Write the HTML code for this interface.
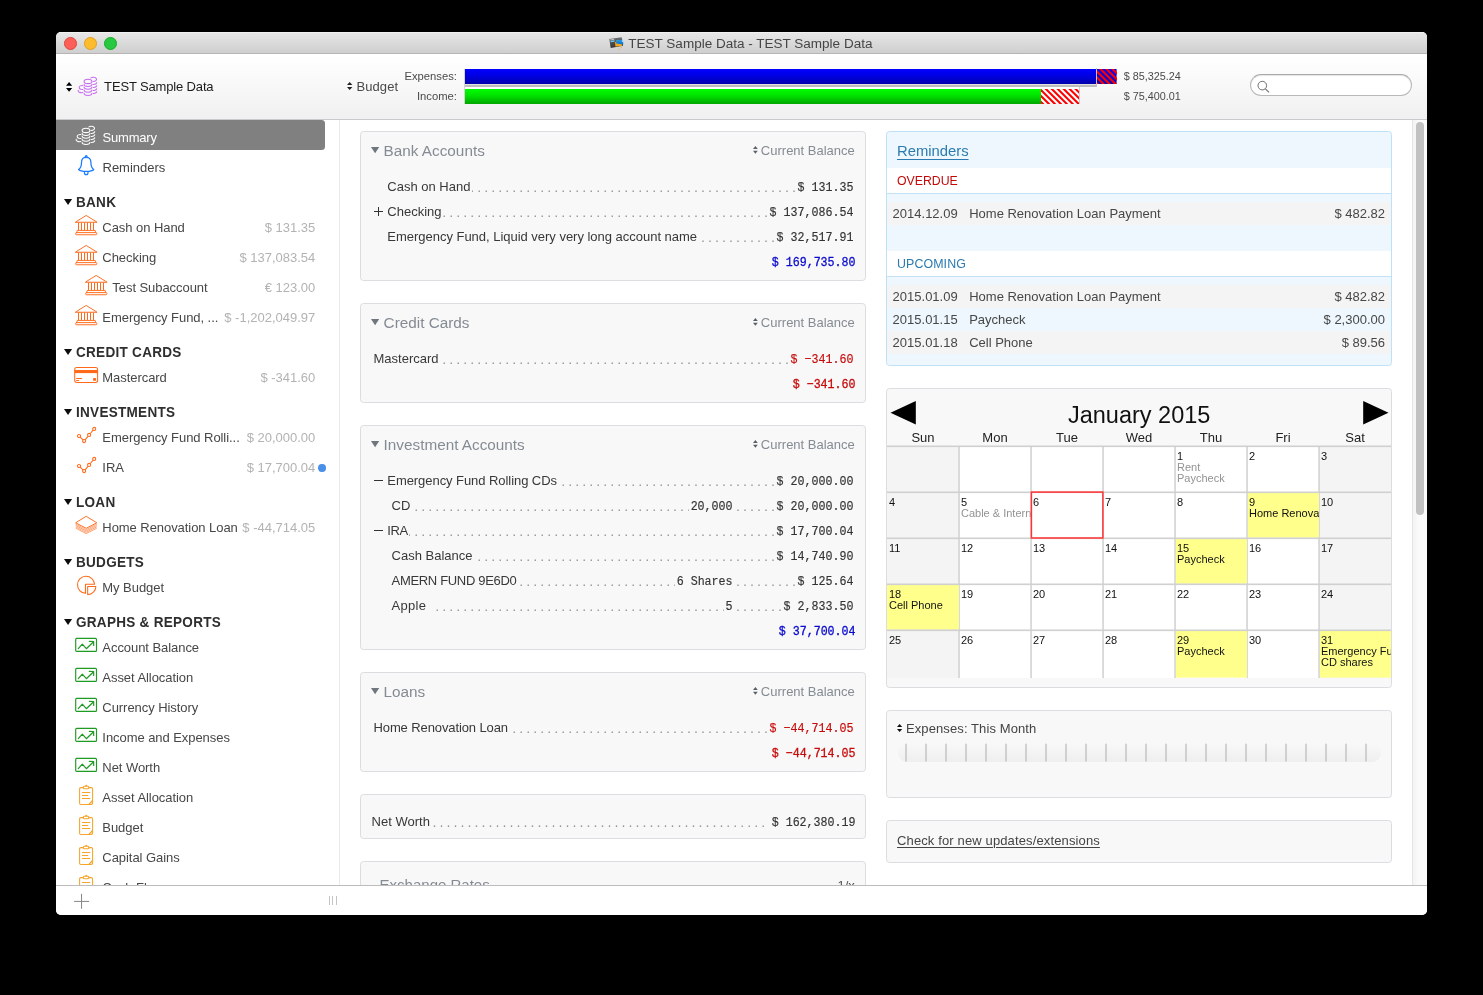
<!DOCTYPE html>
<html><head><meta charset="utf-8"><title>TEST Sample Data</title>
<style>
html,body{margin:0;padding:0;}
body{width:1483px;height:995px;background:#000;overflow:hidden;position:relative;font-family:"Liberation Sans",sans-serif;}
#win{position:absolute;left:56px;top:32px;width:1371px;height:883px;border-radius:5px 5px 5px 5px;overflow:hidden;background:#fff;}
#abs{position:absolute;left:-56px;top:-32px;width:1483px;height:995px;will-change:transform;}
#abs div,#abs svg{position:absolute;white-space:nowrap;}
#abs svg{overflow:visible;}
.m{font-family:"Liberation Mono",monospace;}
</style></head><body>
<div id="win"><div id="abs">
<div style="left:56px;top:32px;width:1371px;height:21px;background:linear-gradient(#e7e7e7,#e2e2e2 25%,#d8d8d8 60%,#cfcfcf);border-bottom:1px solid #b5b5b5;"></div>
<div style="left:56px;top:32px;width:1371px;height:1px;background:#f1f1f1;"></div>
<div style="left:63.85px;top:36.85px;width:10.7px;height:10.7px;border-radius:50%;background:#fc5f57;border:0.5px solid #e0443e;"></div>
<div style="left:83.85px;top:36.85px;width:10.7px;height:10.7px;border-radius:50%;background:#fdbc2e;border:0.5px solid #dea123;"></div>
<div style="left:103.85px;top:36.85px;width:10.7px;height:10.7px;border-radius:50%;background:#28c840;border:0.5px solid #1aab29;"></div>
<div style="top:32.51px;font-size:13.53px;line-height:22px;color:#454545;left:628.30px;">TEST Sample Data - TEST Sample Data</div>
<svg style="left:609px;top:37px;" width="16" height="14" viewBox="0 0 16 14"><defs><linearGradient id="wg" x1="0" y1="0" x2="0" y2="1"><stop offset="0" stop-color="#707070"/><stop offset="1" stop-color="#333"/></linearGradient><linearGradient id="wb" x1="0" y1="0" x2="0" y2="1"><stop offset="0" stop-color="#2a9bea"/><stop offset="1" stop-color="#0a6fc4"/></linearGradient></defs><path d="M0.3 2.0 L12.7 0.2 L14.1 8.7 L1.7 10.9 Z" fill="url(#wg)"/><path d="M1.3 2.6 L5.2 2.1 L5.3 2.8 L1.4 3.3 Z" fill="#d4d9dc"/><path d="M1.5 3.7 L5.5 3.2 L5.7 4.8 L1.7 5.3 Z" fill="#6cc4ee"/><path d="M6.0 5.0 L12.6 5.2 L12.9 9.0 L6.4 9.6 Z" fill="#f3a81e"/><path d="M7.1 2.9 L14.0 2.7 L14.3 7.6 Q10.3 7.2 7.3 6.5 Z" fill="url(#wb)"/><rect x="12.9" y="3.1" width="1.1" height="1.9" fill="#a8d4f4"/><circle cx="7.7" cy="3.7" r="0.45" fill="#7ac043"/><circle cx="12.5" cy="10.6" r="0.55" fill="#efa030" opacity="0.85"/><circle cx="10.1" cy="12.4" r="0.6" fill="#efa030" opacity="0.75"/></svg>
<div style="left:56px;top:54px;width:1371px;height:65px;background:linear-gradient(#ffffff,#fbfbfb 30%,#f0f0f0);border-bottom:1px solid #c9c9cd;"></div>
<svg style="left:66px;top:81.5px;" width="6.2" height="9.8" viewBox="0 0 6.2 9.8"><path d="M0 3.72 L3.1 0 L6.2 3.72 Z M0 6.08 L3.1 9.8 L6.2 6.08 Z" fill="#000"/></svg>
<svg style="left:76px;top:76px;" width="24" height="22" viewBox="0 0 24 22"><g fill="none" stroke="#c66cf0" stroke-width="1.05" stroke-linecap="round"><ellipse cx="12" cy="5.4" rx="3.9" ry="2.2"/><path d="M8.1 8.2 A3.9 2.25 0 0 0 15.9 8.2"/><path d="M8.1 11.1 A3.9 2.25 0 0 0 15.9 11.1"/><path d="M8.1 14.1 A3.9 2.25 0 0 0 15.9 14.1"/><path d="M8.1 17.3 A3.9 2.25 0 0 0 15.9 17.3"/><path d="M14.9 1.9 A3.3 2.1 0 1 1 17.1 5.5"/><path d="M17.2 8.45 A3.3 2.1 0 0 0 20.75 6.75"/><path d="M17.2 11.45 A3.3 2.1 0 0 0 20.75 9.75"/><path d="M17.2 14.45 A3.3 2.1 0 0 0 20.75 12.75"/><path d="M17.2 17.45 A3.3 2.1 0 0 0 20.75 15.75"/><path d="M6.8 9.5 A3.6 2.0 0 0 0 6.8 13.5"/><path d="M2.2 14.3 A3.6 2.0 0 0 0 6.8 16.6"/></g></svg>
<div style="top:75.60px;font-size:13px;line-height:21px;color:#1c1c1c;left:104.10px;letter-spacing:-0.15px;">TEST Sample Data</div>
<svg style="left:346.8px;top:82.3px;" width="5.4" height="8" viewBox="0 0 5.4 8"><path d="M0 3.04 L2.7 0 L5.4 3.04 Z M0 4.96 L2.7 8 L5.4 4.96 Z" fill="#222"/></svg>
<div style="top:76.30px;font-size:13px;line-height:21px;color:#4a4a4a;left:356.50px;letter-spacing:0.08px;">Budget</div>
<div style="top:67.00px;font-size:11.25px;line-height:18px;color:#4a4a4a;right:1026.00px;">Expenses:</div>
<div style="top:87.20px;font-size:11.25px;line-height:18px;color:#4a4a4a;right:1026.00px;">Income:</div>
<div style="left:463.6px;top:68.6px;width:1.4px;height:35.6px;background:#d3d3d3;"></div>
<div style="left:465px;top:84px;width:632.3px;height:1.4px;background:#e1e1de;"></div>
<div style="left:465px;top:85.4px;width:632.3px;height:1.3px;background:#bdbdbd;"></div>
<div style="left:1096.2px;top:67.6px;width:1.2px;height:19.1px;background:#c3c3c3;"></div>
<div style="left:465px;top:86.7px;width:614px;height:2.3px;background:#fff;"></div>
<div style="left:1078.7px;top:86.5px;width:1px;height:17.6px;background:#cdcdcd;"></div>
<div style="left:465px;top:69px;width:631.2px;height:15px;background:linear-gradient(#0000ff,#0000e2 45%,#0000ac);"></div>
<svg style="left:1097.4px;top:69px;overflow:hidden;" width="19.6" height="15" viewBox="0 0 19.6 15"><defs><linearGradient id="bg1" x1="0" y1="0" x2="0" y2="1"><stop offset="0" stop-color="#0c00f6"/><stop offset="0.45" stop-color="#0c00dc"/><stop offset="1" stop-color="#0c00b4"/></linearGradient></defs><rect width="19.6" height="15" fill="url(#bg1)"/><g stroke="#ff0000" stroke-width="2.1"><path d="M-23.50 -3 L-2.50 18"/><path d="M-17.50 -3 L3.50 18"/><path d="M-11.50 -3 L9.50 18"/><path d="M-5.50 -3 L15.50 18"/><path d="M0.50 -3 L21.50 18"/><path d="M6.50 -3 L27.50 18"/><path d="M12.50 -3 L33.50 18"/><path d="M18.50 -3 L39.50 18"/></g></svg>
<div style="left:465px;top:89px;width:576px;height:15px;background:linear-gradient(#00ff00,#00e200 45%,#00a600);"></div>
<svg style="left:1041px;top:89px;overflow:hidden;" width="37.7" height="15" viewBox="0 0 37.7 15"><rect width="37.7" height="15" fill="#ffffff"/><g stroke="#ff0000" stroke-width="2.1"><path d="M-21.90 -3 L-0.90 18"/><path d="M-15.95 -3 L5.05 18"/><path d="M-10.00 -3 L11.00 18"/><path d="M-4.05 -3 L16.95 18"/><path d="M1.90 -3 L22.90 18"/><path d="M7.85 -3 L28.85 18"/><path d="M13.80 -3 L34.80 18"/><path d="M19.75 -3 L40.75 18"/><path d="M25.70 -3 L46.70 18"/><path d="M31.65 -3 L52.65 18"/><path d="M37.60 -3 L58.60 18"/></g></svg>
<div style="top:67.56px;font-size:10.8px;line-height:17px;color:#4a4a4a;left:1123.80px;">$ 85,325.24</div>
<div style="top:88.16px;font-size:10.8px;line-height:17px;color:#4a4a4a;left:1123.80px;">$ 75,400.01</div>
<div style="left:1250px;top:74px;width:160px;height:20px;border:1px solid #b9b9b9;border-top-color:#a9a9a9;border-radius:11px;background:#fff;box-shadow:inset 0 1px 1px rgba(0,0,0,0.10);"></div>
<svg style="left:1256px;top:79px;" width="15" height="15" viewBox="0 0 15 15"><circle cx="6.3" cy="6.6" r="4.3" fill="none" stroke="#6e6e6e" stroke-width="1"/><path d="M9.4 9.8 L13 13.4" stroke="#6e6e6e" stroke-width="1.1"/></svg>
<div style="left:339px;top:120px;width:1px;height:765px;background:#e9e9ed;"></div>
<div style="left:56px;top:120px;width:269px;height:30px;background:#808080;border-radius:0 3.5px 3.5px 0;"></div>
<svg style="left:74px;top:125px;" width="24" height="22" viewBox="0 0 24 22"><g fill="none" stroke="#ffffff" stroke-width="1.05" stroke-linecap="round"><ellipse cx="12" cy="5.4" rx="3.9" ry="2.2"/><path d="M8.1 8.2 A3.9 2.25 0 0 0 15.9 8.2"/><path d="M8.1 11.1 A3.9 2.25 0 0 0 15.9 11.1"/><path d="M8.1 14.1 A3.9 2.25 0 0 0 15.9 14.1"/><path d="M8.1 17.3 A3.9 2.25 0 0 0 15.9 17.3"/><path d="M14.9 1.9 A3.3 2.1 0 1 1 17.1 5.5"/><path d="M17.2 8.45 A3.3 2.1 0 0 0 20.75 6.75"/><path d="M17.2 11.45 A3.3 2.1 0 0 0 20.75 9.75"/><path d="M17.2 14.45 A3.3 2.1 0 0 0 20.75 12.75"/><path d="M17.2 17.45 A3.3 2.1 0 0 0 20.75 15.75"/><path d="M6.8 9.5 A3.6 2.0 0 0 0 6.8 13.5"/><path d="M2.2 14.3 A3.6 2.0 0 0 0 6.8 16.6"/></g></svg>
<div style="top:127.00px;font-size:13px;line-height:21px;color:#ffffff;left:102.50px;letter-spacing:-0.2px;">Summary</div>
<svg style="left:78px;top:155px;" width="17" height="21" viewBox="0 0 17 21"><g fill="none" stroke="#1a7cff" stroke-width="1.25" stroke-linejoin="round" stroke-linecap="round"><circle cx="8.2" cy="1.6" r="0.9"/><path d="M0.6 14.5 C2.9 13 3.5 10.5 3.5 7.5 C3.5 4.2 5.6 2.4 8.2 2.4 C10.8 2.4 12.9 4.2 12.9 7.5 C12.9 10.5 13.5 13 15.8 14.5 C13.4 17.1 3 17.1 0.6 14.5 Z"/><path d="M6.4 17.4 C6.4 20.4 10 20.4 10 17.4"/></g></svg>
<div style="top:157.00px;font-size:13px;line-height:21px;color:#444;left:102.50px;">Reminders</div>
<svg style="left:64.1px;top:199.0px;" width="9" height="6.6" viewBox="0 0 9 6.6"><path d="M0 0 H8.1 L4.05 6.1 Z" fill="#0c0c0c"/></svg>
<div style="top:191.41px;font-size:14.4px;line-height:23px;color:#2e2e2e;font-weight:bold;left:76.00px;letter-spacing:0.3px;transform:scaleX(0.94);transform-origin:0 0;">BANK</div>
<svg style="left:75px;top:215px;" width="22.5" height="20.5" viewBox="0 0 22.5 20.5"><g fill="none" stroke="#ff6a1a" stroke-width="1" stroke-linejoin="round" stroke-linecap="round"><path d="M0.8 6.9 L11.2 0.45 L21.6 6.9" stroke-width="0.95"/><path d="M0.6 7.25 H21.8" stroke-width="1.05"/><path d="M3.5 7.6 V15.2" stroke-linecap="butt"/><path d="M6.5 7.6 V15.2" stroke-linecap="butt"/><path d="M9.5 7.6 V15.2" stroke-linecap="butt"/><path d="M12.5 7.6 V15.2" stroke-linecap="butt"/><path d="M15.5 7.6 V15.2" stroke-linecap="butt"/><path d="M18.5 7.6 V15.2" stroke-linecap="butt"/><path d="M1.7 17.55 L2.3 15.45 H20.1 L20.7 17.55" stroke-width="0.95"/><rect x="0.55" y="17.6" width="21.3" height="2.15" rx="1" stroke-width="0.95"/></g></svg>
<div style="top:217.00px;font-size:13px;line-height:21px;color:#474747;left:102.35px;letter-spacing:-0.06px;">Cash on Hand</div>
<div style="top:217.00px;font-size:13px;line-height:21px;color:#b3b3b3;right:1167.70px;">$ 131.35</div>
<svg style="left:75px;top:245px;" width="22.5" height="20.5" viewBox="0 0 22.5 20.5"><g fill="none" stroke="#ff6a1a" stroke-width="1" stroke-linejoin="round" stroke-linecap="round"><path d="M0.8 6.9 L11.2 0.45 L21.6 6.9" stroke-width="0.95"/><path d="M0.6 7.25 H21.8" stroke-width="1.05"/><path d="M3.5 7.6 V15.2" stroke-linecap="butt"/><path d="M6.5 7.6 V15.2" stroke-linecap="butt"/><path d="M9.5 7.6 V15.2" stroke-linecap="butt"/><path d="M12.5 7.6 V15.2" stroke-linecap="butt"/><path d="M15.5 7.6 V15.2" stroke-linecap="butt"/><path d="M18.5 7.6 V15.2" stroke-linecap="butt"/><path d="M1.7 17.55 L2.3 15.45 H20.1 L20.7 17.55" stroke-width="0.95"/><rect x="0.55" y="17.6" width="21.3" height="2.15" rx="1" stroke-width="0.95"/></g></svg>
<div style="top:247.00px;font-size:13px;line-height:21px;color:#474747;left:102.35px;letter-spacing:-0.06px;">Checking</div>
<div style="top:247.00px;font-size:13px;line-height:21px;color:#b3b3b3;right:1167.70px;">$ 137,083.54</div>
<svg style="left:85px;top:275px;" width="22.5" height="20.5" viewBox="0 0 22.5 20.5"><g fill="none" stroke="#ff6a1a" stroke-width="1" stroke-linejoin="round" stroke-linecap="round"><path d="M0.8 6.9 L11.2 0.45 L21.6 6.9" stroke-width="0.95"/><path d="M0.6 7.25 H21.8" stroke-width="1.05"/><path d="M3.5 7.6 V15.2" stroke-linecap="butt"/><path d="M6.5 7.6 V15.2" stroke-linecap="butt"/><path d="M9.5 7.6 V15.2" stroke-linecap="butt"/><path d="M12.5 7.6 V15.2" stroke-linecap="butt"/><path d="M15.5 7.6 V15.2" stroke-linecap="butt"/><path d="M18.5 7.6 V15.2" stroke-linecap="butt"/><path d="M1.7 17.55 L2.3 15.45 H20.1 L20.7 17.55" stroke-width="0.95"/><rect x="0.55" y="17.6" width="21.3" height="2.15" rx="1" stroke-width="0.95"/></g></svg>
<div style="top:277.00px;font-size:13px;line-height:21px;color:#474747;left:112.35px;letter-spacing:-0.06px;">Test Subaccount</div>
<div style="top:277.00px;font-size:13px;line-height:21px;color:#b3b3b3;right:1167.70px;">&euro; 123.00</div>
<svg style="left:75px;top:305px;" width="22.5" height="20.5" viewBox="0 0 22.5 20.5"><g fill="none" stroke="#ff6a1a" stroke-width="1" stroke-linejoin="round" stroke-linecap="round"><path d="M0.8 6.9 L11.2 0.45 L21.6 6.9" stroke-width="0.95"/><path d="M0.6 7.25 H21.8" stroke-width="1.05"/><path d="M3.5 7.6 V15.2" stroke-linecap="butt"/><path d="M6.5 7.6 V15.2" stroke-linecap="butt"/><path d="M9.5 7.6 V15.2" stroke-linecap="butt"/><path d="M12.5 7.6 V15.2" stroke-linecap="butt"/><path d="M15.5 7.6 V15.2" stroke-linecap="butt"/><path d="M18.5 7.6 V15.2" stroke-linecap="butt"/><path d="M1.7 17.55 L2.3 15.45 H20.1 L20.7 17.55" stroke-width="0.95"/><rect x="0.55" y="17.6" width="21.3" height="2.15" rx="1" stroke-width="0.95"/></g></svg>
<div style="top:307.00px;font-size:13px;line-height:21px;color:#474747;left:102.35px;letter-spacing:-0.06px;">Emergency Fund, ...</div>
<div style="top:307.00px;font-size:13px;line-height:21px;color:#b3b3b3;right:1167.70px;">$ -1,202,049.97</div>
<svg style="left:64.1px;top:349.0px;" width="9" height="6.6" viewBox="0 0 9 6.6"><path d="M0 0 H8.1 L4.05 6.1 Z" fill="#0c0c0c"/></svg>
<div style="top:341.41px;font-size:14.4px;line-height:23px;color:#2e2e2e;font-weight:bold;left:76.00px;letter-spacing:0.3px;transform:scaleX(0.94);transform-origin:0 0;">CREDIT CARDS</div>
<svg style="left:74px;top:367px;" width="25" height="17" viewBox="0 0 25 17"><rect x="0.7" y="0.5" width="22.9" height="14.9" rx="2" fill="none" stroke="#ff6a1a" stroke-width="1.05"/><rect x="0.7" y="3" width="22.9" height="3.1" fill="#ff6a1a"/><rect x="2" y="10.9" width="6.2" height="1.15" rx="0.55" fill="#ff6a1a"/><rect x="2" y="13" width="3.2" height="1.05" rx="0.5" fill="#ff6a1a"/><rect x="19.1" y="11.1" width="2.9" height="2.7" rx="0.3" fill="#ff6a1a"/></svg>
<div style="top:367.00px;font-size:13px;line-height:21px;color:#474747;left:102.35px;letter-spacing:-0.06px;">Mastercard</div>
<div style="top:367.00px;font-size:13px;line-height:21px;color:#b3b3b3;right:1167.70px;">$ -341.60</div>
<svg style="left:64.1px;top:409.0px;" width="9" height="6.6" viewBox="0 0 9 6.6"><path d="M0 0 H8.1 L4.05 6.1 Z" fill="#0c0c0c"/></svg>
<div style="top:401.41px;font-size:14.4px;line-height:23px;color:#2e2e2e;font-weight:bold;left:76.00px;letter-spacing:0.3px;transform:scaleX(0.94);transform-origin:0 0;">INVESTMENTS</div>
<svg style="left:75px;top:420px;" width="24" height="26" viewBox="0 0 24 26"><g fill="none" stroke="#ff6a1a" stroke-width="1.05"><path d="M5.15 17.07 L8.04 19.96"/><path d="M10.11 19.85 L13.13 16.11"/><path d="M15.10 13.72 L18.20 10.08"/><circle cx="4.05" cy="15.97" r="1.55"/><circle cx="9.14" cy="21.06" r="1.55"/><circle cx="14.1" cy="14.9" r="1.55"/><circle cx="19.2" cy="8.9" r="1.55"/></g></svg>
<div style="top:427.00px;font-size:13px;line-height:21px;color:#474747;left:102.35px;letter-spacing:-0.06px;">Emergency Fund Rolli...</div>
<div style="top:427.00px;font-size:13px;line-height:21px;color:#b3b3b3;right:1167.70px;">$ 20,000.00</div>
<svg style="left:75px;top:450px;" width="24" height="26" viewBox="0 0 24 26"><g fill="none" stroke="#ff6a1a" stroke-width="1.05"><path d="M5.15 17.07 L8.04 19.96"/><path d="M10.11 19.85 L13.13 16.11"/><path d="M15.10 13.72 L18.20 10.08"/><circle cx="4.05" cy="15.97" r="1.55"/><circle cx="9.14" cy="21.06" r="1.55"/><circle cx="14.1" cy="14.9" r="1.55"/><circle cx="19.2" cy="8.9" r="1.55"/></g></svg>
<div style="top:457.00px;font-size:13px;line-height:21px;color:#474747;left:102.35px;letter-spacing:-0.06px;">IRA</div>
<div style="top:457.00px;font-size:13px;line-height:21px;color:#b3b3b3;right:1167.70px;">$ 17,700.04</div>
<div style="left:318.2px;top:464.2px;width:7.4px;height:7.4px;border-radius:50%;background:#4a90e8;"></div>
<svg style="left:64.1px;top:499.0px;" width="9" height="6.6" viewBox="0 0 9 6.6"><path d="M0 0 H8.1 L4.05 6.1 Z" fill="#0c0c0c"/></svg>
<div style="top:491.41px;font-size:14.4px;line-height:23px;color:#2e2e2e;font-weight:bold;left:76.00px;letter-spacing:0.3px;transform:scaleX(0.94);transform-origin:0 0;">LOAN</div>
<svg style="left:75px;top:510px;" width="23" height="26" viewBox="0 0 23 26"><g fill="none" stroke="#ff6a1a" stroke-width="0.62" stroke-linejoin="round"><path d="M11.23 6.3 L0.66 12.8 L11.23 18.3 L21.8 12.8 Z" stroke-width="0.95"/><path d="M0.66 14.14 L11.23 19.64 L21.8 14.14"/><path d="M0.66 15.48 L11.23 20.98 L21.8 15.48"/><path d="M0.66 16.82 L11.23 22.32 L21.8 16.82"/><path d="M0.66 18.16 L11.23 23.66 L21.8 18.16"/></g></svg>
<div style="top:517.00px;font-size:13px;line-height:21px;color:#474747;left:102.35px;letter-spacing:-0.06px;">Home Renovation Loan</div>
<div style="top:517.00px;font-size:13px;line-height:21px;color:#b3b3b3;right:1167.70px;">$ -44,714.05</div>
<svg style="left:64.1px;top:559.0px;" width="9" height="6.6" viewBox="0 0 9 6.6"><path d="M0 0 H8.1 L4.05 6.1 Z" fill="#0c0c0c"/></svg>
<div style="top:551.41px;font-size:14.4px;line-height:23px;color:#2e2e2e;font-weight:bold;left:76.00px;letter-spacing:0.3px;transform:scaleX(0.94);transform-origin:0 0;">BUDGETS</div>
<svg style="left:75px;top:570px;" width="23" height="27" viewBox="0 0 23 27"><g fill="none" stroke="#ff6a1a" stroke-width="1.05" stroke-linejoin="round"><path d="M10.45 14.3 L19.6 14.3 A8.55 8.55 0 1 0 10.45 23.35 Z"/><path d="M12.67 16.5 L20.9 16.5 A8.2 8.2 0 0 1 12.67 24.6 Z"/></g></svg>
<div style="top:577.00px;font-size:13px;line-height:21px;color:#474747;left:102.35px;letter-spacing:-0.06px;">My Budget</div>
<svg style="left:64.1px;top:619.0px;" width="9" height="6.6" viewBox="0 0 9 6.6"><path d="M0 0 H8.1 L4.05 6.1 Z" fill="#0c0c0c"/></svg>
<div style="top:611.41px;font-size:14.4px;line-height:23px;color:#2e2e2e;font-weight:bold;left:76.00px;letter-spacing:0.3px;transform:scaleX(0.94);transform-origin:0 0;">GRAPHS &amp; REPORTS</div>
<svg style="left:75px;top:630px;" width="23" height="23" viewBox="0 0 23 23"><g fill="none" stroke="#1f9a23" stroke-width="1.2" stroke-linejoin="round" stroke-linecap="round"><rect x="0.7" y="8.4" width="20.8" height="13" rx="1" stroke-width="1.15"/><path d="M3.27 18.6 L7.3 14.1 L11.36 18.7 L18.3 12.05"/><path d="M14.3 11.35 L18.65 11.5 L18.7 15.5"/></g></svg>
<div style="top:637.00px;font-size:13px;line-height:21px;color:#474747;left:102.35px;letter-spacing:-0.06px;">Account Balance</div>
<svg style="left:75px;top:660px;" width="23" height="23" viewBox="0 0 23 23"><g fill="none" stroke="#1f9a23" stroke-width="1.2" stroke-linejoin="round" stroke-linecap="round"><rect x="0.7" y="8.4" width="20.8" height="13" rx="1" stroke-width="1.15"/><path d="M3.27 18.6 L7.3 14.1 L11.36 18.7 L18.3 12.05"/><path d="M14.3 11.35 L18.65 11.5 L18.7 15.5"/></g></svg>
<div style="top:667.00px;font-size:13px;line-height:21px;color:#474747;left:102.35px;letter-spacing:-0.06px;">Asset Allocation</div>
<svg style="left:75px;top:690px;" width="23" height="23" viewBox="0 0 23 23"><g fill="none" stroke="#1f9a23" stroke-width="1.2" stroke-linejoin="round" stroke-linecap="round"><rect x="0.7" y="8.4" width="20.8" height="13" rx="1" stroke-width="1.15"/><path d="M3.27 18.6 L7.3 14.1 L11.36 18.7 L18.3 12.05"/><path d="M14.3 11.35 L18.65 11.5 L18.7 15.5"/></g></svg>
<div style="top:697.00px;font-size:13px;line-height:21px;color:#474747;left:102.35px;letter-spacing:-0.06px;">Currency History</div>
<svg style="left:75px;top:720px;" width="23" height="23" viewBox="0 0 23 23"><g fill="none" stroke="#1f9a23" stroke-width="1.2" stroke-linejoin="round" stroke-linecap="round"><rect x="0.7" y="8.4" width="20.8" height="13" rx="1" stroke-width="1.15"/><path d="M3.27 18.6 L7.3 14.1 L11.36 18.7 L18.3 12.05"/><path d="M14.3 11.35 L18.65 11.5 L18.7 15.5"/></g></svg>
<div style="top:727.00px;font-size:13px;line-height:21px;color:#474747;left:102.35px;letter-spacing:-0.06px;">Income and Expenses</div>
<svg style="left:75px;top:750px;" width="23" height="23" viewBox="0 0 23 23"><g fill="none" stroke="#1f9a23" stroke-width="1.2" stroke-linejoin="round" stroke-linecap="round"><rect x="0.7" y="8.4" width="20.8" height="13" rx="1" stroke-width="1.15"/><path d="M3.27 18.6 L7.3 14.1 L11.36 18.7 L18.3 12.05"/><path d="M14.3 11.35 L18.65 11.5 L18.7 15.5"/></g></svg>
<div style="top:757.00px;font-size:13px;line-height:21px;color:#474747;left:102.35px;letter-spacing:-0.06px;">Net Worth</div>
<svg style="left:79px;top:785px;" width="14.5" height="20.5" viewBox="0 0 14.5 20.5"><g fill="none" stroke="#f5a52a" stroke-width="1.05" stroke-linejoin="round" stroke-linecap="round"><path d="M4.3 2.6 H1.9 Q0.6 2.6 0.6 3.9 V18.2 Q0.6 19.5 1.9 19.5 H12.3 Q13.6 19.5 13.6 18.2 V3.9 Q13.6 2.6 12.3 2.6 H9.9"/><rect x="4.2" y="1.3" width="5.8" height="2.4" rx="1.2"/><circle cx="7.15" cy="0.65" r="0.55" fill="#f5a52a" stroke-width="0.6"/><path d="M3.4 7.4 H10.9 M3.4 10.4 H8.8 M3.4 13.4 H10.9"/><path d="M9.9 19.3 L13.5 15.3" stroke-width="1.1"/><path d="M11.4 19.2 L13.4 17" stroke-width="0.7"/></g></svg>
<div style="top:787.00px;font-size:13px;line-height:21px;color:#474747;left:102.35px;letter-spacing:-0.06px;">Asset Allocation</div>
<svg style="left:79px;top:815px;" width="14.5" height="20.5" viewBox="0 0 14.5 20.5"><g fill="none" stroke="#f5a52a" stroke-width="1.05" stroke-linejoin="round" stroke-linecap="round"><path d="M4.3 2.6 H1.9 Q0.6 2.6 0.6 3.9 V18.2 Q0.6 19.5 1.9 19.5 H12.3 Q13.6 19.5 13.6 18.2 V3.9 Q13.6 2.6 12.3 2.6 H9.9"/><rect x="4.2" y="1.3" width="5.8" height="2.4" rx="1.2"/><circle cx="7.15" cy="0.65" r="0.55" fill="#f5a52a" stroke-width="0.6"/><path d="M3.4 7.4 H10.9 M3.4 10.4 H8.8 M3.4 13.4 H10.9"/><path d="M9.9 19.3 L13.5 15.3" stroke-width="1.1"/><path d="M11.4 19.2 L13.4 17" stroke-width="0.7"/></g></svg>
<div style="top:817.00px;font-size:13px;line-height:21px;color:#474747;left:102.35px;letter-spacing:-0.06px;">Budget</div>
<svg style="left:79px;top:845px;" width="14.5" height="20.5" viewBox="0 0 14.5 20.5"><g fill="none" stroke="#f5a52a" stroke-width="1.05" stroke-linejoin="round" stroke-linecap="round"><path d="M4.3 2.6 H1.9 Q0.6 2.6 0.6 3.9 V18.2 Q0.6 19.5 1.9 19.5 H12.3 Q13.6 19.5 13.6 18.2 V3.9 Q13.6 2.6 12.3 2.6 H9.9"/><rect x="4.2" y="1.3" width="5.8" height="2.4" rx="1.2"/><circle cx="7.15" cy="0.65" r="0.55" fill="#f5a52a" stroke-width="0.6"/><path d="M3.4 7.4 H10.9 M3.4 10.4 H8.8 M3.4 13.4 H10.9"/><path d="M9.9 19.3 L13.5 15.3" stroke-width="1.1"/><path d="M11.4 19.2 L13.4 17" stroke-width="0.7"/></g></svg>
<div style="top:847.00px;font-size:13px;line-height:21px;color:#474747;left:102.35px;letter-spacing:-0.06px;">Capital Gains</div>
<svg style="left:79px;top:875px;" width="14.5" height="20.5" viewBox="0 0 14.5 20.5"><g fill="none" stroke="#f5a52a" stroke-width="1.05" stroke-linejoin="round" stroke-linecap="round"><path d="M4.3 2.6 H1.9 Q0.6 2.6 0.6 3.9 V18.2 Q0.6 19.5 1.9 19.5 H12.3 Q13.6 19.5 13.6 18.2 V3.9 Q13.6 2.6 12.3 2.6 H9.9"/><rect x="4.2" y="1.3" width="5.8" height="2.4" rx="1.2"/><circle cx="7.15" cy="0.65" r="0.55" fill="#f5a52a" stroke-width="0.6"/><path d="M3.4 7.4 H10.9 M3.4 10.4 H8.8 M3.4 13.4 H10.9"/><path d="M9.9 19.3 L13.5 15.3" stroke-width="1.1"/><path d="M11.4 19.2 L13.4 17" stroke-width="0.7"/></g></svg>
<div style="top:877.00px;font-size:13px;line-height:21px;color:#474747;left:102.35px;letter-spacing:-0.06px;">Cash Flow</div>
<div style="left:360px;top:131px;width:504px;height:148px;background:#f8f8f8;border:1px solid #dcdce1;border-radius:3.5px;"></div>
<svg style="left:371.2px;top:147px;" width="9" height="7" viewBox="0 0 9 7"><path d="M0 0 H8.2 L4.1 6.2 Z" fill="#70767e"/></svg>
<div style="top:139.00px;font-size:15.3px;line-height:24px;color:#858b93;left:383.60px;">Bank Accounts</div>
<div style="top:140.20px;font-size:13px;line-height:21px;color:#858b93;right:628.20px;">Current Balance</div>
<svg style="left:752.8px;top:146.4px;" width="4.8" height="7.8" viewBox="0 0 4.8 7.8"><path d="M0 2.96 L2.4 0 L4.8 2.96 Z M0 4.84 L2.4 7.8 L4.8 4.84 Z" fill="#5a6068"/></svg>
<div class="m" style="left:362px;top:178.89px;width:491.50px;height:22px;line-height:18px;font-size:11.665px;overflow:hidden;"><div style="right:0;top:0;"><span style="color:#959595;position:relative;top:0.9px;">................................................................................</span><span style="display:inline-block;color:#333;transform:scaleY(1.1);transform-origin:0 12.11px;-webkit-text-stroke:0.15px #333;">$ 131.35</span></div></div>
<div style="top:176.00px;font-size:13px;line-height:21px;color:#383838;left:362.00px;background:#f8f8f8;padding-left:25.3px;padding-right:1.5px;letter-spacing:0px;">Cash on Hand</div>
<div class="m" style="left:362px;top:203.89px;width:491.50px;height:22px;line-height:18px;font-size:11.665px;overflow:hidden;"><div style="right:0;top:0;"><span style="color:#959595;position:relative;top:0.9px;">................................................................................</span><span style="display:inline-block;color:#333;transform:scaleY(1.1);transform-origin:0 12.11px;-webkit-text-stroke:0.15px #333;">$ 137,086.54</span></div></div>
<div style="top:201.00px;font-size:13px;line-height:21px;color:#383838;left:362.00px;background:#f8f8f8;padding-left:25.3px;padding-right:1.5px;letter-spacing:0px;">Checking</div>
<div style="left:373.8px;top:211.4px;width:9px;height:1.1px;background:#333;"></div>
<div style="left:377.75px;top:207.4px;width:1.1px;height:9px;background:#333;"></div>
<div class="m" style="left:362px;top:228.89px;width:491.50px;height:22px;line-height:18px;font-size:11.665px;overflow:hidden;"><div style="right:0;top:0;"><span style="color:#959595;position:relative;top:0.9px;">................................................................................</span><span style="display:inline-block;color:#333;transform:scaleY(1.1);transform-origin:0 12.11px;-webkit-text-stroke:0.15px #333;">$ 32,517.91</span></div></div>
<div style="top:226.00px;font-size:13px;line-height:21px;color:#383838;left:362.00px;background:#f8f8f8;padding-left:25.3px;padding-right:1.5px;letter-spacing:-0.02px;">Emergency Fund, Liquid very very long account name</div>
<div class="m" style="right:627.40px;top:253.89px;height:18px;line-height:18px;font-size:11.665px;"><span style="display:inline-block;color:#0a0acd;transform:scaleY(1.1);transform-origin:0 12.11px;-webkit-text-stroke:0.27px #0a0acd;">$ 169,735.80</span></div>
<div style="left:360px;top:303px;width:504px;height:98px;background:#f8f8f8;border:1px solid #dcdce1;border-radius:3.5px;"></div>
<svg style="left:371.2px;top:319px;" width="9" height="7" viewBox="0 0 9 7"><path d="M0 0 H8.2 L4.1 6.2 Z" fill="#70767e"/></svg>
<div style="top:311.00px;font-size:15.3px;line-height:24px;color:#858b93;left:383.60px;">Credit Cards</div>
<div style="top:312.20px;font-size:13px;line-height:21px;color:#858b93;right:628.20px;">Current Balance</div>
<svg style="left:752.8px;top:318.4px;" width="4.8" height="7.8" viewBox="0 0 4.8 7.8"><path d="M0 2.96 L2.4 0 L4.8 2.96 Z M0 4.84 L2.4 7.8 L4.8 4.84 Z" fill="#5a6068"/></svg>
<div class="m" style="left:362px;top:350.89px;width:491.50px;height:22px;line-height:18px;font-size:11.665px;overflow:hidden;"><div style="right:0;top:0;"><span style="color:#959595;position:relative;top:0.9px;">................................................................................</span><span style="display:inline-block;color:#c80a0a;transform:scaleY(1.1);transform-origin:0 12.11px;-webkit-text-stroke:0.15px #c80a0a;">$ &minus;341.60</span></div></div>
<div style="top:348.00px;font-size:13px;line-height:21px;color:#383838;left:362.00px;background:#f8f8f8;padding-left:11.5px;padding-right:1.5px;letter-spacing:0px;">Mastercard</div>
<div class="m" style="right:627.40px;top:375.89px;height:18px;line-height:18px;font-size:11.665px;"><span style="display:inline-block;color:#c80a0a;transform:scaleY(1.1);transform-origin:0 12.11px;-webkit-text-stroke:0.27px #c80a0a;">$ &minus;341.60</span></div>
<div style="left:360px;top:425px;width:504px;height:223px;background:#f8f8f8;border:1px solid #dcdce1;border-radius:3.5px;"></div>
<svg style="left:371.2px;top:441px;" width="9" height="7" viewBox="0 0 9 7"><path d="M0 0 H8.2 L4.1 6.2 Z" fill="#70767e"/></svg>
<div style="top:433.00px;font-size:15.3px;line-height:24px;color:#858b93;left:383.60px;">Investment Accounts</div>
<div style="top:434.20px;font-size:13px;line-height:21px;color:#858b93;right:628.20px;">Current Balance</div>
<svg style="left:752.8px;top:440.4px;" width="4.8" height="7.8" viewBox="0 0 4.8 7.8"><path d="M0 2.96 L2.4 0 L4.8 2.96 Z M0 4.84 L2.4 7.8 L4.8 4.84 Z" fill="#5a6068"/></svg>
<div class="m" style="left:362px;top:472.89px;width:491.50px;height:22px;line-height:18px;font-size:11.665px;overflow:hidden;"><div style="right:0;top:0;"><span style="color:#959595;position:relative;top:0.9px;">................................................................................</span><span style="display:inline-block;color:#333;transform:scaleY(1.1);transform-origin:0 12.11px;-webkit-text-stroke:0.15px #333;">$ 20,000.00</span></div></div>
<div style="top:470.00px;font-size:13px;line-height:21px;color:#383838;left:362.00px;background:#f8f8f8;padding-left:25.3px;padding-right:1.5px;letter-spacing:-0.06px;">Emergency Fund Rolling CDs</div>
<div style="left:373.8px;top:480.4px;width:9.4px;height:1.1px;background:#333;"></div>
<div class="m" style="left:362px;top:497.89px;width:491.50px;height:22px;line-height:18px;font-size:11.665px;overflow:hidden;"><div style="right:0;top:0;"><span style="color:#959595;position:relative;top:0.9px;">................................................................................</span><span style="display:inline-block;color:#333;transform:scaleY(1.1);transform-origin:0 12.11px;-webkit-text-stroke:0.15px #333;">$ 20,000.00</span></div></div>
<div class="m" style="right:748.80px;top:497.89px;height:18px;line-height:18px;font-size:11.665px;background:#f8f8f8;padding:0 1.6px 0 1.5px;"><span style="display:inline-block;color:#333;transform:scaleY(1.1);transform-origin:0 12.11px;-webkit-text-stroke:0.15px #333;">20,000</span></div>
<div style="top:495.00px;font-size:13px;line-height:21px;color:#383838;left:362.00px;background:#f8f8f8;padding-left:29.6px;padding-right:1.5px;letter-spacing:0px;">CD</div>
<div class="m" style="left:362px;top:522.89px;width:491.50px;height:22px;line-height:18px;font-size:11.665px;overflow:hidden;"><div style="right:0;top:0;"><span style="color:#959595;position:relative;top:0.9px;">................................................................................</span><span style="display:inline-block;color:#333;transform:scaleY(1.1);transform-origin:0 12.11px;-webkit-text-stroke:0.15px #333;">$ 17,700.04</span></div></div>
<div style="top:520.00px;font-size:13px;line-height:21px;color:#383838;left:362.00px;background:#f8f8f8;padding-left:25.3px;padding-right:1.5px;letter-spacing:-0.4px;">IRA</div>
<div style="left:373.8px;top:530.4px;width:9.4px;height:1.1px;background:#333;"></div>
<div class="m" style="left:362px;top:547.89px;width:491.50px;height:22px;line-height:18px;font-size:11.665px;overflow:hidden;"><div style="right:0;top:0;"><span style="color:#959595;position:relative;top:0.9px;">................................................................................</span><span style="display:inline-block;color:#333;transform:scaleY(1.1);transform-origin:0 12.11px;-webkit-text-stroke:0.15px #333;">$ 14,740.90</span></div></div>
<div style="top:545.00px;font-size:13px;line-height:21px;color:#383838;left:362.00px;background:#f8f8f8;padding-left:29.6px;padding-right:1.5px;letter-spacing:0px;">Cash Balance</div>
<div class="m" style="left:362px;top:572.89px;width:491.50px;height:22px;line-height:18px;font-size:11.665px;overflow:hidden;"><div style="right:0;top:0;"><span style="color:#959595;position:relative;top:0.9px;">................................................................................</span><span style="display:inline-block;color:#333;transform:scaleY(1.1);transform-origin:0 12.11px;-webkit-text-stroke:0.15px #333;">$ 125.64</span></div></div>
<div class="m" style="right:748.80px;top:572.89px;height:18px;line-height:18px;font-size:11.665px;background:#f8f8f8;padding:0 1.6px 0 1.5px;"><span style="display:inline-block;color:#333;transform:scaleY(1.1);transform-origin:0 12.11px;-webkit-text-stroke:0.15px #333;">6 Shares</span></div>
<div style="top:570.00px;font-size:13px;line-height:21px;color:#383838;left:362.00px;background:#f8f8f8;padding-left:29.6px;padding-right:1.5px;letter-spacing:-0.33px;">AMERN FUND 9E6D0</div>
<div class="m" style="left:362px;top:597.89px;width:491.50px;height:22px;line-height:18px;font-size:11.665px;overflow:hidden;"><div style="right:0;top:0;"><span style="color:#959595;position:relative;top:0.9px;">................................................................................</span><span style="display:inline-block;color:#333;transform:scaleY(1.1);transform-origin:0 12.11px;-webkit-text-stroke:0.15px #333;">$ 2,833.50</span></div></div>
<div class="m" style="right:748.80px;top:597.89px;height:18px;line-height:18px;font-size:11.665px;background:#f8f8f8;padding:0 1.6px 0 1.5px;"><span style="display:inline-block;color:#333;transform:scaleY(1.1);transform-origin:0 12.11px;-webkit-text-stroke:0.15px #333;">5</span></div>
<div style="top:595.00px;font-size:13px;line-height:21px;color:#383838;left:362.00px;background:#f8f8f8;padding-left:29.6px;padding-right:1.5px;letter-spacing:0.3px;">Apple&nbsp;</div>
<div class="m" style="right:627.40px;top:622.89px;height:18px;line-height:18px;font-size:11.665px;"><span style="display:inline-block;color:#0a0acd;transform:scaleY(1.1);transform-origin:0 12.11px;-webkit-text-stroke:0.27px #0a0acd;">$ 37,700.04</span></div>
<div style="left:360px;top:672px;width:504px;height:98px;background:#f8f8f8;border:1px solid #dcdce1;border-radius:3.5px;"></div>
<svg style="left:371.2px;top:688px;" width="9" height="7" viewBox="0 0 9 7"><path d="M0 0 H8.2 L4.1 6.2 Z" fill="#70767e"/></svg>
<div style="top:680.00px;font-size:15.3px;line-height:24px;color:#858b93;left:383.60px;">Loans</div>
<div style="top:681.20px;font-size:13px;line-height:21px;color:#858b93;right:628.20px;">Current Balance</div>
<svg style="left:752.8px;top:687.4px;" width="4.8" height="7.8" viewBox="0 0 4.8 7.8"><path d="M0 2.96 L2.4 0 L4.8 2.96 Z M0 4.84 L2.4 7.8 L4.8 4.84 Z" fill="#5a6068"/></svg>
<div class="m" style="left:362px;top:719.89px;width:491.50px;height:22px;line-height:18px;font-size:11.665px;overflow:hidden;"><div style="right:0;top:0;"><span style="color:#959595;position:relative;top:0.9px;">................................................................................</span><span style="display:inline-block;color:#c80a0a;transform:scaleY(1.1);transform-origin:0 12.11px;-webkit-text-stroke:0.15px #c80a0a;">$ &minus;44,714.05</span></div></div>
<div style="top:717.00px;font-size:13px;line-height:21px;color:#383838;left:362.00px;background:#f8f8f8;padding-left:11.5px;padding-right:1.5px;letter-spacing:-0.11px;">Home Renovation Loan</div>
<div class="m" style="right:627.40px;top:744.89px;height:18px;line-height:18px;font-size:11.665px;"><span style="display:inline-block;color:#c80a0a;transform:scaleY(1.1);transform-origin:0 12.11px;-webkit-text-stroke:0.27px #c80a0a;">$ &minus;44,714.05</span></div>
<div style="left:360px;top:794px;width:504px;height:43px;background:#f8f8f8;border:1px solid #dcdce1;border-radius:3.5px;"></div>
<div class="m" style="left:362px;top:813.89px;width:493.60px;height:22px;line-height:18px;font-size:11.665px;overflow:hidden;"><div style="right:0;top:0;"><span style="color:#959595;position:relative;top:0.9px;">................................................................................</span><span style="display:inline-block;color:#333;transform:scaleY(1.1);transform-origin:0 12.11px;-webkit-text-stroke:0.15px #333;"><span style="display:inline-block;width:4.8px"></span>$ 162,380.19</span></div></div>
<div style="top:811.00px;font-size:13px;line-height:21px;color:#383838;left:362.00px;background:#f8f8f8;padding-left:9.6px;padding-right:1.5px;letter-spacing:0px;">Net Worth</div>
<div style="left:360px;top:861px;width:504px;height:98px;background:#f8f8f8;border:1px solid #dcdce1;border-radius:3.5px;"></div>
<div style="top:873.20px;font-size:15px;line-height:24px;color:#858b93;left:379.60px;">Exchange Rates</div>
<div style="top:875.20px;font-size:13px;line-height:21px;color:#555;right:628.20px;">1/x</div>
<div style="left:886px;top:131px;width:504px;height:233px;background:#edf7fd;border:1px solid #bfe1f6;border-radius:3.5px;"></div>
<div style="top:138.97px;font-size:14.8px;line-height:24px;color:#2b7bb0;left:897.00px;text-decoration:underline;text-decoration-thickness:1px;text-underline-offset:2.5px;">Reminders</div>
<div style="left:887px;top:168px;width:504px;height:25px;background:#fff;border-bottom:1px solid #c3e2f6;"></div>
<div style="top:171.34px;font-size:12.3px;line-height:20px;color:#c40808;left:897.00px;">OVERDUE</div>
<div style="left:887px;top:251px;width:504px;height:25px;background:#fff;border-bottom:1px solid #c3e2f6;"></div>
<div style="top:254.30px;font-size:12.4px;line-height:20px;color:#2b7bb0;left:897.00px;letter-spacing:0.1px;">UPCOMING</div>
<div style="left:887px;top:202px;width:504px;height:23px;background:#f4f4f4;"></div>
<div style="top:203.20px;font-size:13px;line-height:21px;color:#474747;left:892.60px;">2014.12.09</div>
<div style="top:203.20px;font-size:13px;line-height:21px;color:#474747;left:969.20px;">Home Renovation Loan Payment</div>
<div style="top:203.20px;font-size:13px;line-height:21px;color:#474747;right:98.00px;">$ 482.82</div>
<div style="left:887px;top:285px;width:504px;height:23px;background:#f4f4f4;"></div>
<div style="top:286.20px;font-size:13px;line-height:21px;color:#474747;left:892.60px;">2015.01.09</div>
<div style="top:286.20px;font-size:13px;line-height:21px;color:#474747;left:969.20px;">Home Renovation Loan Payment</div>
<div style="top:286.20px;font-size:13px;line-height:21px;color:#474747;right:98.00px;">$ 482.82</div>
<div style="top:309.20px;font-size:13px;line-height:21px;color:#474747;left:892.60px;">2015.01.15</div>
<div style="top:309.20px;font-size:13px;line-height:21px;color:#474747;left:969.20px;">Paycheck</div>
<div style="top:309.20px;font-size:13px;line-height:21px;color:#474747;right:98.00px;">$ 2,300.00</div>
<div style="left:887px;top:331px;width:504px;height:23px;background:#f4f4f4;"></div>
<div style="top:332.20px;font-size:13px;line-height:21px;color:#474747;left:892.60px;">2015.01.18</div>
<div style="top:332.20px;font-size:13px;line-height:21px;color:#474747;left:969.20px;">Cell Phone</div>
<div style="top:332.20px;font-size:13px;line-height:21px;color:#474747;right:98.00px;">$ 89.56</div>
<div style="left:886px;top:388px;width:504px;height:298px;background:#f8f8f8;border:1px solid #dcdce1;border-radius:3.5px;"></div>
<svg style="left:890px;top:400px;" width="27" height="26" viewBox="0 0 27 26"><path d="M0.5 12.7 L25.8 1 L25.8 24.4 Z" fill="#000"/></svg>
<svg style="left:1362px;top:400px;" width="27" height="26" viewBox="0 0 27 26"><path d="M26.5 12.7 L1.2 1 L1.2 24.4 Z" fill="#000"/></svg>
<div style="top:396.36px;font-size:23.5px;line-height:38px;color:#111;left:839.20px;width:600px;text-align:center;">January 2015</div>
<div style="top:426.70px;font-size:13px;line-height:21px;color:#222;left:623.00px;width:600px;text-align:center;">Sun</div>
<div style="top:426.70px;font-size:13px;line-height:21px;color:#222;left:695.00px;width:600px;text-align:center;">Mon</div>
<div style="top:426.70px;font-size:13px;line-height:21px;color:#222;left:767.00px;width:600px;text-align:center;">Tue</div>
<div style="top:426.70px;font-size:13px;line-height:21px;color:#222;left:839.00px;width:600px;text-align:center;">Wed</div>
<div style="top:426.70px;font-size:13px;line-height:21px;color:#222;left:911.00px;width:600px;text-align:center;">Thu</div>
<div style="top:426.70px;font-size:13px;line-height:21px;color:#222;left:983.00px;width:600px;text-align:center;">Fri</div>
<div style="top:426.70px;font-size:13px;line-height:21px;color:#222;left:1055.00px;width:600px;text-align:center;">Sat</div>
<svg style="left:887px;top:445px;overflow:hidden;" width="504" height="233" viewBox="0 -1 504 233"><rect x="0" y="0" width="72" height="232" fill="#f4f4f4"/><rect x="72" y="0" width="360" height="232" fill="#ffffff"/><rect x="432" y="0" width="72" height="232" fill="#f4f4f4"/><rect x="71.30" y="0" width="1.5" height="232" fill="#d0d0d0"/><rect x="143.30" y="0" width="1.5" height="232" fill="#d0d0d0"/><rect x="215.30" y="0" width="1.5" height="232" fill="#d0d0d0"/><rect x="287.30" y="0" width="1.5" height="232" fill="#d0d0d0"/><rect x="359.30" y="0" width="1.5" height="232" fill="#d0d0d0"/><rect x="431.30" y="0" width="1.5" height="232" fill="#d0d0d0"/><rect x="360.85" y="47.00" width="71.05" height="44.60" fill="#ffff8c"/><rect x="288.85" y="93.00" width="71.05" height="44.60" fill="#ffff8c"/><rect x="0.00" y="139.00" width="71.90" height="44.60" fill="#ffff8c"/><rect x="288.85" y="185.00" width="71.05" height="46.60" fill="#ffff8c"/><rect x="432.85" y="185.00" width="71.05" height="46.60" fill="#ffff8c"/><rect x="0" y="-0.50" width="504" height="1.6" fill="#d0d0d0"/><rect x="0" y="45.50" width="504" height="1.6" fill="#d0d0d0"/><rect x="0" y="91.50" width="504" height="1.6" fill="#d0d0d0"/><rect x="0" y="137.50" width="504" height="1.6" fill="#d0d0d0"/><rect x="0" y="183.50" width="504" height="1.6" fill="#d0d0d0"/></svg>
<div style="top:447.19px;font-size:11px;line-height:18px;color:#111;left:1177.00px;">1</div>
<div style="left:1177.0px;top:458.8px;width:69.8px;height:16px;overflow:hidden;font-size:11px;line-height:16px;color:#939393;">Rent</div>
<div style="left:1177.0px;top:469.8px;width:69.8px;height:16px;overflow:hidden;font-size:11px;line-height:16px;color:#939393;">Paycheck</div>
<div style="top:447.19px;font-size:11px;line-height:18px;color:#111;left:1249.00px;">2</div>
<div style="top:447.19px;font-size:11px;line-height:18px;color:#111;left:1321.00px;">3</div>
<div style="top:493.19px;font-size:11px;line-height:18px;color:#111;left:889.00px;">4</div>
<div style="top:493.19px;font-size:11px;line-height:18px;color:#111;left:961.00px;">5</div>
<div style="left:961.0px;top:504.8px;width:69.8px;height:16px;overflow:hidden;font-size:11px;line-height:16px;color:#939393;">Cable &amp; Intern</div>
<div style="top:493.19px;font-size:11px;line-height:18px;color:#111;left:1033.00px;">6</div>
<div style="top:493.19px;font-size:11px;line-height:18px;color:#111;left:1105.00px;">7</div>
<div style="top:493.19px;font-size:11px;line-height:18px;color:#111;left:1177.00px;">8</div>
<div style="top:493.19px;font-size:11px;line-height:18px;color:#111;left:1249.00px;">9</div>
<div style="left:1249.0px;top:504.8px;width:69.8px;height:16px;overflow:hidden;font-size:11px;line-height:16px;color:#111;">Home Renova</div>
<div style="top:493.19px;font-size:11px;line-height:18px;color:#111;left:1321.00px;">10</div>
<div style="top:539.19px;font-size:11px;line-height:18px;color:#111;left:889.00px;">11</div>
<div style="top:539.19px;font-size:11px;line-height:18px;color:#111;left:961.00px;">12</div>
<div style="top:539.19px;font-size:11px;line-height:18px;color:#111;left:1033.00px;">13</div>
<div style="top:539.19px;font-size:11px;line-height:18px;color:#111;left:1105.00px;">14</div>
<div style="top:539.19px;font-size:11px;line-height:18px;color:#111;left:1177.00px;">15</div>
<div style="left:1177.0px;top:550.8px;width:69.8px;height:16px;overflow:hidden;font-size:11px;line-height:16px;color:#111;">Paycheck</div>
<div style="top:539.19px;font-size:11px;line-height:18px;color:#111;left:1249.00px;">16</div>
<div style="top:539.19px;font-size:11px;line-height:18px;color:#111;left:1321.00px;">17</div>
<div style="top:585.19px;font-size:11px;line-height:18px;color:#111;left:889.00px;">18</div>
<div style="left:889.0px;top:596.8px;width:69.8px;height:16px;overflow:hidden;font-size:11px;line-height:16px;color:#111;">Cell Phone</div>
<div style="top:585.19px;font-size:11px;line-height:18px;color:#111;left:961.00px;">19</div>
<div style="top:585.19px;font-size:11px;line-height:18px;color:#111;left:1033.00px;">20</div>
<div style="top:585.19px;font-size:11px;line-height:18px;color:#111;left:1105.00px;">21</div>
<div style="top:585.19px;font-size:11px;line-height:18px;color:#111;left:1177.00px;">22</div>
<div style="top:585.19px;font-size:11px;line-height:18px;color:#111;left:1249.00px;">23</div>
<div style="top:585.19px;font-size:11px;line-height:18px;color:#111;left:1321.00px;">24</div>
<div style="top:631.19px;font-size:11px;line-height:18px;color:#111;left:889.00px;">25</div>
<div style="top:631.19px;font-size:11px;line-height:18px;color:#111;left:961.00px;">26</div>
<div style="top:631.19px;font-size:11px;line-height:18px;color:#111;left:1033.00px;">27</div>
<div style="top:631.19px;font-size:11px;line-height:18px;color:#111;left:1105.00px;">28</div>
<div style="top:631.19px;font-size:11px;line-height:18px;color:#111;left:1177.00px;">29</div>
<div style="left:1177.0px;top:642.8px;width:69.8px;height:16px;overflow:hidden;font-size:11px;line-height:16px;color:#111;">Paycheck</div>
<div style="top:631.19px;font-size:11px;line-height:18px;color:#111;left:1249.00px;">30</div>
<div style="top:631.19px;font-size:11px;line-height:18px;color:#111;left:1321.00px;">31</div>
<div style="left:1321.0px;top:642.8px;width:69.8px;height:16px;overflow:hidden;font-size:11px;line-height:16px;color:#111;">Emergency Fu</div>
<div style="left:1321.0px;top:653.8px;width:69.8px;height:16px;overflow:hidden;font-size:11px;line-height:16px;color:#111;">CD shares</div>
<svg style="left:1029px;top:490px;" width="77" height="51" viewBox="0 0 77 51"><rect x="2.4" y="2.1" width="71.5" height="45.9" fill="none" stroke="#ff3333" stroke-width="1.5"/></svg>
<div style="left:886px;top:710px;width:504px;height:86px;background:#f8f8f8;border:1px solid #dcdce1;border-radius:3.5px;"></div>
<svg style="left:897.2px;top:723.9px;" width="5.2" height="8.0" viewBox="0 0 5.2 8.0"><path d="M0 3.04 L2.6 0 L5.2 3.04 Z M0 4.96 L2.6 8.0 L5.2 4.96 Z" fill="#111"/></svg>
<div style="top:718.40px;font-size:13px;line-height:21px;color:#444;left:906.00px;letter-spacing:0.1px;">Expenses: This Month</div>
<div style="left:897.5px;top:743px;width:483.5px;height:19px;background:linear-gradient(#f8f8f8,#efefef);border-radius:9px;"></div>
<svg style="left:897px;top:743px;" width="485" height="20" viewBox="0 0 485 20"><rect x="8.30" y="0.7" width="1.4" height="17.8" fill="#c0c0c0"/><rect x="28.30" y="0.7" width="1.4" height="17.8" fill="#c0c0c0"/><rect x="48.30" y="0.7" width="1.4" height="17.8" fill="#c0c0c0"/><rect x="68.30" y="0.7" width="1.4" height="17.8" fill="#c0c0c0"/><rect x="88.30" y="0.7" width="1.4" height="17.8" fill="#c0c0c0"/><rect x="108.30" y="0.7" width="1.4" height="17.8" fill="#c0c0c0"/><rect x="128.30" y="0.7" width="1.4" height="17.8" fill="#c0c0c0"/><rect x="148.30" y="0.7" width="1.4" height="17.8" fill="#c0c0c0"/><rect x="168.30" y="0.7" width="1.4" height="17.8" fill="#c0c0c0"/><rect x="188.30" y="0.7" width="1.4" height="17.8" fill="#c0c0c0"/><rect x="208.30" y="0.7" width="1.4" height="17.8" fill="#c0c0c0"/><rect x="228.30" y="0.7" width="1.4" height="17.8" fill="#c0c0c0"/><rect x="248.30" y="0.7" width="1.4" height="17.8" fill="#c0c0c0"/><rect x="268.30" y="0.7" width="1.4" height="17.8" fill="#c0c0c0"/><rect x="288.30" y="0.7" width="1.4" height="17.8" fill="#c0c0c0"/><rect x="308.30" y="0.7" width="1.4" height="17.8" fill="#c0c0c0"/><rect x="328.30" y="0.7" width="1.4" height="17.8" fill="#c0c0c0"/><rect x="348.30" y="0.7" width="1.4" height="17.8" fill="#c0c0c0"/><rect x="368.30" y="0.7" width="1.4" height="17.8" fill="#c0c0c0"/><rect x="388.30" y="0.7" width="1.4" height="17.8" fill="#c0c0c0"/><rect x="408.30" y="0.7" width="1.4" height="17.8" fill="#c0c0c0"/><rect x="428.30" y="0.7" width="1.4" height="17.8" fill="#c0c0c0"/><rect x="448.30" y="0.7" width="1.4" height="17.8" fill="#c0c0c0"/><rect x="468.30" y="0.7" width="1.4" height="17.8" fill="#c0c0c0"/></svg>
<div style="left:886px;top:820px;width:504px;height:41px;background:#f8f8f8;border:1px solid #dcdce1;border-radius:3.5px;"></div>
<div style="top:829.80px;font-size:13px;line-height:21px;color:#444;left:897.00px;letter-spacing:0.13px;text-decoration:underline;text-decoration-thickness:1.2px;text-underline-offset:1.8px;">Check for new updates/extensions</div>
<div style="left:1412px;top:120px;width:15px;height:765px;background:linear-gradient(90deg,#f3f3f3,#fbfbfb 40%,#fafafa);border-left:1px solid #e6e6e6;box-sizing:border-box;"></div>
<div style="left:1416px;top:122px;width:8px;height:393px;background:#c1c1c1;border-radius:4px;"></div>
<div style="left:56px;top:885px;width:1371px;height:30px;background:#fff;border-top:1px solid #bcbcbc;"></div>
<svg style="left:74px;top:893px;" width="16" height="16" viewBox="0 0 16 16"><rect x="0.1" y="7.9" width="15" height="1" fill="#858585"/><rect x="7.05" y="0.8" width="1" height="15" fill="#858585"/></svg>
<div style="left:329px;top:896px;width:1px;height:9px;background:#c4c4c4;"></div>
<div style="left:332.3px;top:896px;width:1px;height:9px;background:#c4c4c4;"></div>
<div style="left:335.6px;top:896px;width:1px;height:9px;background:#c4c4c4;"></div>
</div></div></body></html>
